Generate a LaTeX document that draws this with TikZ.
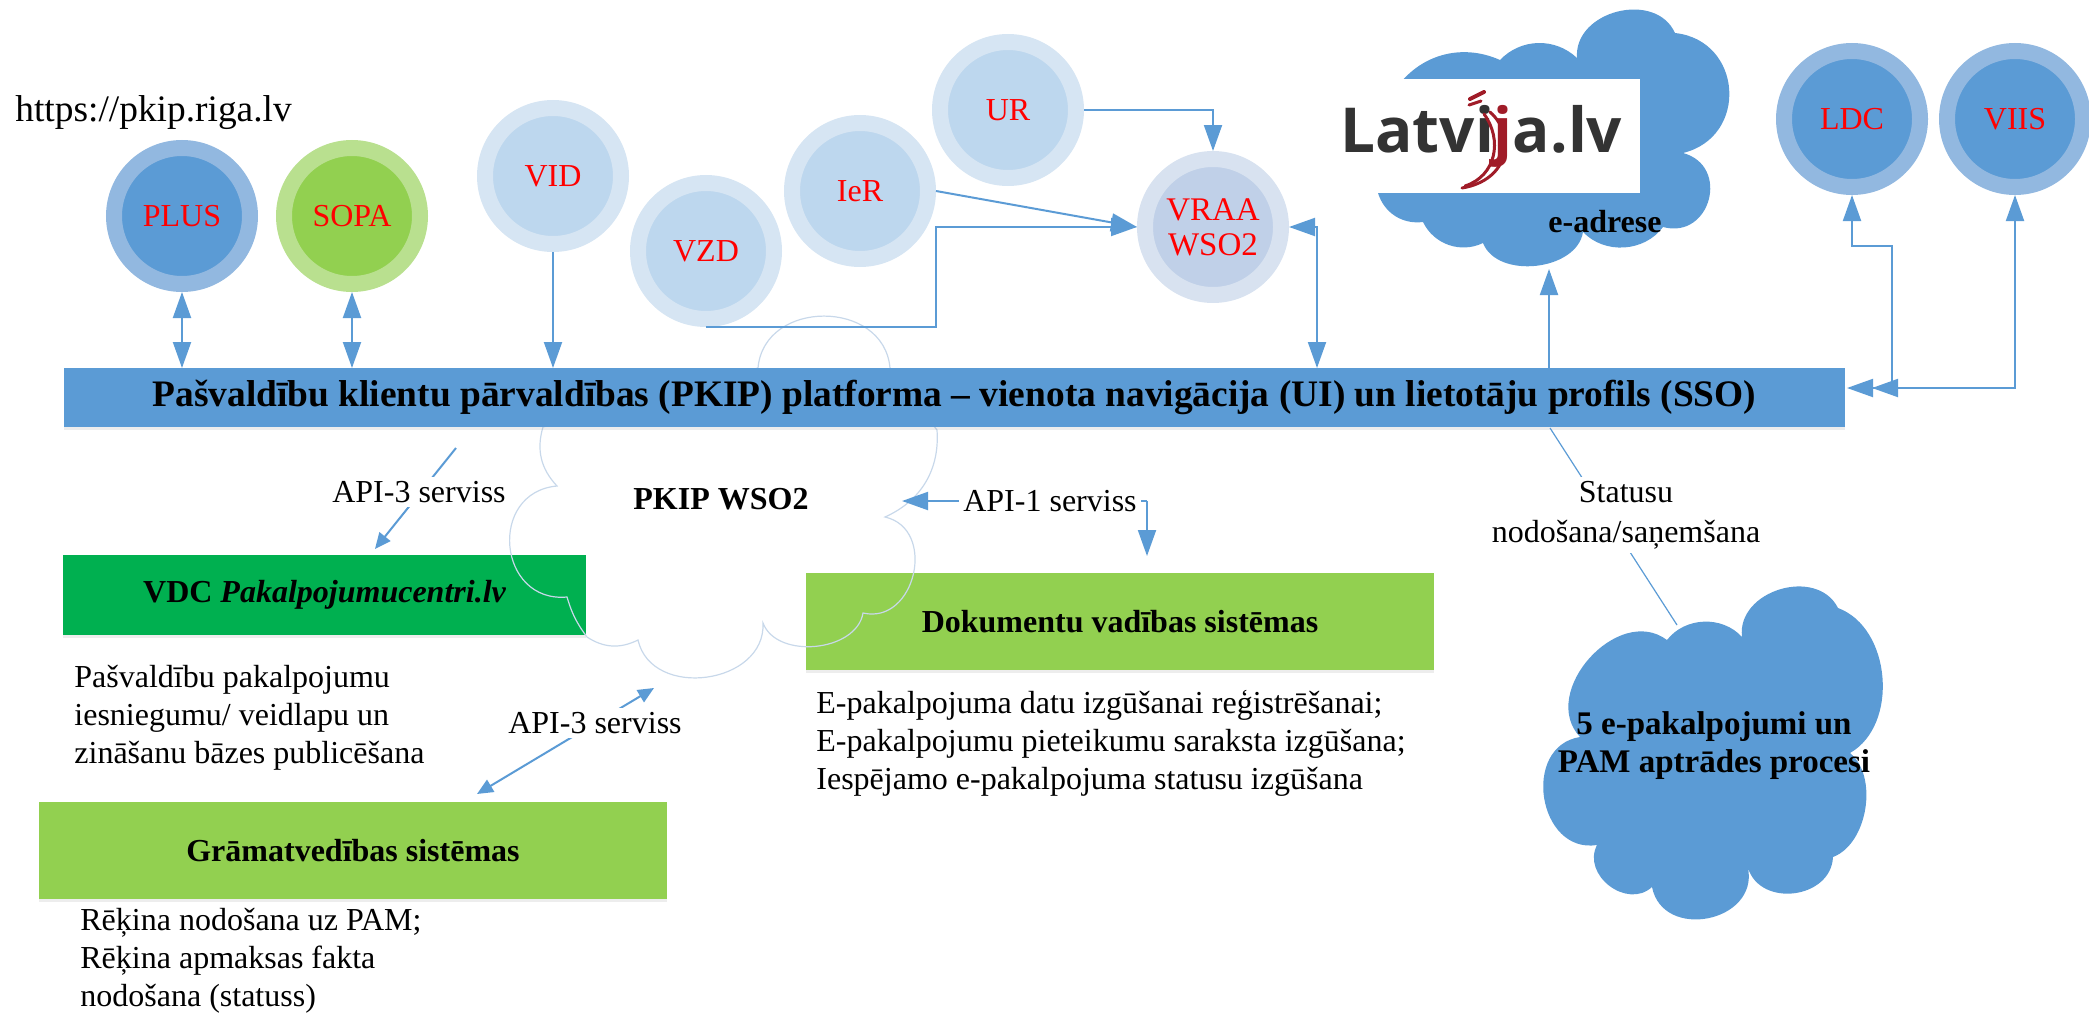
\documentclass[tikz,border=0pt]{standalone}
\usepackage{fontspec}
\setmainfont{Liberation Serif}
\newfontfamily\logofont{Open Sans}
\usetikzlibrary{arrows.meta,shadows}
\definecolor{barblue}{HTML}{5B9BD5}
\definecolor{ringblue}{HTML}{92B8E0}
\definecolor{ringgreen}{HTML}{B9E08F}
\definecolor{paleringb}{HTML}{D6E5F3}
\definecolor{paleinner}{HTML}{BDD7EE}
\definecolor{vraaring}{HTML}{D8E2F0}
\definecolor{vraainner}{HTML}{C0D0E8}
\definecolor{limegreen}{HTML}{92D050}
\definecolor{deepgreen}{HTML}{00B050}
\definecolor{cloudline}{HTML}{C8D8EA}
\definecolor{logored}{HTML}{A01C28}
\definecolor{logogray}{HTML}{333333}
\newcommand{\fsz}[2]{\fontsize{#1}{#2}\selectfont}
\tikzset{
  x=0.5pt,y=-0.5pt,
  softshadow/.style={drop shadow={opacity=.14,shadow xshift=0pt,shadow yshift=-1.5pt}},
  ball/.style={circle,minimum size=68pt,line width=8pt,inner sep=0pt,softshadow,text=red,font=\fsz{16}{18},align=center},
  strongball/.style={ball,draw=ringblue,fill=barblue},
  greenball/.style={ball,draw=ringgreen,fill=limegreen},
  paleball/.style={ball,draw=paleringb,fill=paleinner},
  vraaball/.style={ball,draw=vraaring,fill=vraainner},
  sysbox/.style={rectangle,inner sep=0pt,outer sep=0pt,softshadow,text=black},
  bodytext/.style={font=\fsz{16}{19},align=left,anchor=north west,inner sep=0pt},
  apilabel/.style={font=\fsz{16}{19},fill=white,inner sep=2pt,align=center},
  link/.style={draw=barblue,line width=1pt},
  bigtip/.style={>={Triangle[length=13pt,width=9pt]}},
  smalltip/.style={>={Triangle[length=8pt,width=7pt]}},
  cb/.style 2 args={bend left=#1,looseness=#2},
}
\begin{document}
\begin{tikzpicture}
\useasboundingbox (0,0) rectangle (2089,1017);
% boxes
\node[sysbox,fill=deepgreen,minimum width=261.5pt,minimum height=40pt,font=\fsz{16}{19}] (vdc) at (324.5,595) {\bfseries VDC \itshape Pakalpojumucentri.lv};
\node[sysbox,fill=limegreen,minimum width=314pt,minimum height=48.5pt,font=\fsz{16}{19}] (dok) at (1120,621.5) {\bfseries Dokumentu vadības sistēmas};
\node[sysbox,fill=limegreen,minimum width=314pt,minimum height=48.5pt,font=\fsz{16}{19}] (gram) at (353,850.5) {\bfseries Grāmatvedības sistēmas};
% PKIP cloud outline
\draw[cloudline,line width=.6pt] (758,368) to[cb={85}{1.35}] (890,368) -- (937,430)
  to[cb={35}{1}] (885,517) to[cb={90}{1.4}] (863,613) to[cb={75}{1}] (763,623)
  to[cb={85}{1.25}] (638,640) to[cb={30}{1}] (587,637) to[cb={10}{1}] (567,597)
  to[cb={90}{1.6}] (557,486) to[cb={30}{1}] (543,427) -- cycle;
% main bar
\node[sysbox,fill=barblue,minimum width=890.5pt,minimum height=29.5pt,font=\fsz{18.7}{20}] (bar) at (954.5,397.5)
  {\bfseries Pašvaldību klientu pārvaldības (PKIP) platforma – vienota navigācija (UI) un lietotāju profils (SSO)};
% balls
\node[strongball] (plus) at (182,216) {PLUS};
\node[greenball] (sopa) at (352,216) {SOPA};
\node[paleball] (vid) at (553,176) {VID};
\node[paleball] (vzd) at (706,251) {VZD};
\node[paleball] (ier) at (860,191) {IeR};
\node[paleball] (ur) at (1008,110) {UR};
\node[vraaball,font=\fsz{16.5}{17.5}] (vraa) at (1213,227) {VRAA\\WSO2};
\node[strongball] (ldc) at (1852,119) {LDC};
\node[strongball] (viis) at (2015,119) {VIIS};
% Latvija cloud
\fill[barblue] (1395,90) to[cb={40}{1}] (1500,60) to[cb={45}{1}] (1577,58) to[cb={80}{1.2}] (1675,33)
  to[cb={80}{1.45}] (1683,153) to[cb={90}{1.65}] (1663,227) to[cb={50}{1}] (1583,232)
  to[cb={75}{1}] (1483,243) to[cb={45}{1}] (1423,222) to[cb={40}{1}] (1378,193) -- cycle;
\node[rectangle,fill=white,inner sep=0pt,minimum width=152.5pt,minimum height=57pt] (logobox) at (1487.5,136) {};
\node[anchor=base west,inner sep=0pt,text=logogray,font=\logofont\bfseries\fsz{31}{36}] (logo) at (1340,152) {Latvi\textcolor{logored}{j}a.lv};
\draw[logored,line width=1.5pt,line cap=round] (1490,112) .. controls (1516,135) and (1510,180) .. (1462,188);
\draw[logored,line width=1.5pt,line cap=round] (1484,114) .. controls (1503,140) and (1496,176) .. (1465,186);
\draw[logored,line width=2pt,line cap=round] (1470,99) -- (1484,92);
\draw[logored,line width=1.5pt,line cap=round] (1469,105) -- (1481,101);
\node[font=\fsz{16}{17}\bfseries,inner sep=0pt] (eadrese) at (1605,222) {e-adrese};
% PAM cloud
\fill[barblue] (1580,737) to[cb={85}{1.2}] (1667,640) to[cb={50}{1}] (1742,637) to[cb={80}{1.2}] (1838,608)
  to[cb={65}{1}] (1850,753) to[cb={60}{.9}] (1833,857) to[cb={80}{1.25}] (1748,868)
  to[cb={90}{1.45}] (1652,887) to[cb={80}{1.25}] (1597,845) to[cb={90}{1.4}] cycle;
\node[font=\fsz{16.5}{19}\bfseries,align=center,inner sep=0pt] (pam) at (1714,746) {5 e-pakalpojumi un\\PAM aptrādes procesi};
% free coordinates
\coordinate (vzdbend) at (936,227);
\coordinate (dualtop) at (1317,368);
\coordinate (latvtip) at (1549,269);
\coordinate (ldcturn) at (1892,246);
\coordinate (ldcin) at (1872,388);
\coordinate (viisin) at (1847,388);
\coordinate (pamtop) at (1677,625);
\coordinate (barstat) at (1550,428);
\coordinate (apiAtop) at (456,448);
\coordinate (apiAtip) at (375,549);
\coordinate (apiBtop) at (654,688);
\coordinate (apiBtip) at (477,794);
\coordinate (apiCleft) at (902,501);
\coordinate (apiCturn) at (1147,501);
\coordinate (apiCdown) at (1147,556);
% top connectors
\draw[link,bigtip,<->] (plus.south) -- (plus.south |- bar.north);
\draw[link,bigtip,<->] (sopa.south) -- (sopa.south |- bar.north);
\draw[link,bigtip,->] (vid.south) -- (vid.south |- bar.north);
\draw[link,bigtip,->] (vzd.south) -| (vzdbend) -- (vraa.west);
\draw[link,bigtip,->] (ier.east) -- (vraa.west);
\draw[link,bigtip,->] (ur.east) -| (vraa.north);
\draw[link,bigtip,<->] (vraa.east) -| (dualtop);
\draw[link,bigtip,->] (latvtip |- bar.north) -- (latvtip);
\draw[link,bigtip,<->] (ldc.south) |- (ldcturn) -- (ldcturn |- ldcin) -- (ldcin);
\draw[link,bigtip,<->] (viis.south) |- (viisin);
% lower connectors
\draw[link,line width=.6pt] (barstat) -- (pamtop);
\node[font=\fsz{16}{20},fill=white,inner sep=2pt,align=center] (statusu) at (1626,515) {Statusu\\nodošana/saņemšana};
\draw[link,smalltip,->] (apiAtop) -- (apiAtip);
\node[apilabel] (apiA) at (419,492) {API-3 serviss};
\draw[link,smalltip,<->] (apiBtop) -- (apiBtip);
\node[apilabel] (apiB) at (595,723) {API-3 serviss};
\draw[link,bigtip,->] (apiCturn) -- (apiCleft);
\draw[link,bigtip,->] (apiCturn) -- (apiCdown);
\node[apilabel] (apiC) at (1050,501) {API-1 serviss};
% plain texts
\node[font=\fsz{18.7}{20},anchor=west,inner sep=0pt] (url) at (15,113) {https://pkip.riga.lv};
\node[font=\fsz{16}{19}\bfseries,inner sep=0pt] (pkipwso) at (721,499) {PKIP WSO2};
\node[bodytext] (vdctext) at (74,665) {Pašvaldību pakalpojumu\\iesniegumu/ veidlapu un\\zināšanu bāzes publicēšana};
\node[bodytext] (gramtext) at (80,908) {Rēķina nodošana uz PAM;\\Rēķina apmaksas fakta\\nodošana (statuss)};
\node[bodytext] (doktext) at (816,690) {E-pakalpojuma datu izgūšanai reģistrēšanai;\\E-pakalpojumu pieteikumu saraksta izgūšana;\\Iespējamo e-pakalpojuma statusu izgūšana};
\end{tikzpicture}
\end{document}
